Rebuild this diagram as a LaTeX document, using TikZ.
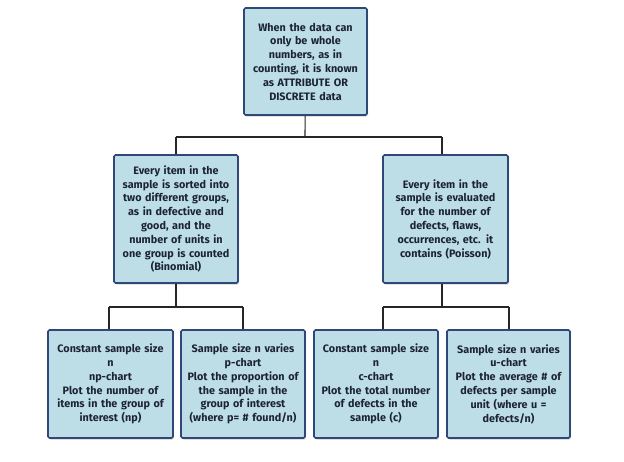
\documentclass[tikz,border=0pt]{standalone}
\usepackage{fontspec}
\setmainfont{Fira Sans}
\usetikzlibrary{shadows}
\definecolor{boxfill}{RGB}{190,222,231}
\definecolor{boxline}{RGB}{47,72,120}
\definecolor{boxtext}{RGB}{28,36,52}
\begin{document}
\begin{tikzpicture}[x=1pt, y=-1pt,
    box/.style={draw=boxline, line width=1.6pt, fill=boxfill, rounded corners=1.5pt,
        text=boxtext, font=\bfseries\fontsize{10.8}{13.8}\selectfont, align=center,
        inner sep=0pt, drop shadow={shadow xshift=1.2pt, shadow yshift=-1.5pt, opacity=0.35}},
    link/.style={draw=black!85, line width=1.1pt}]
    \useasboundingbox (0,0) rectangle (624,461);
    % Top box: attribute data
    \node[box, minimum width=123pt, minimum height=107pt, text width=120pt] (top) at (305.5,61.5)
        {When the data can\\only be whole\\numbers, as in\\counting, it is known\\as ATTRIBUTE OR\\DISCRETE data};
    % Middle row: binomial and poisson
    \node[box, minimum width=124pt, minimum height=128pt, text width=121pt] (binom) at (176,219)
        {Every item in the\\sample is sorted into\\two different groups,\\as in defective and\\good, and the\\number of units in\\one group is counted\\(Binomial)};
    \node[box, minimum width=125pt, minimum height=128pt, text width=121pt] (poisson) at (445.5,219)
        {Every item in the\\sample is evaluated\\for the number of\\defects, flaws,\\occurrences, etc. it\\contains (Poisson)};
    % Bottom row: the four charts
    \node[box, minimum width=125pt, minimum height=108pt, text width=122pt] (np) at (110.5,384)
        {Constant sample size\\n\\np-chart\\Plot the number of\\items in the group of\\interest (np)};
    \node[box, minimum width=124pt, minimum height=108pt, text width=122pt] (p) at (243,384)
        {Sample size n varies\\p-chart\\Plot the proportion of\\the sample in the\\group of interest\\(where p= \# found/n)};
    \node[box, minimum width=124pt, minimum height=108pt, text width=122pt] (c) at (376,384)
        {Constant sample size\\n\\c-chart\\Plot the total number\\of defects in the\\sample (c)};
    \node[box, minimum width=123pt, minimum height=108pt, text width=121pt] (u) at (508.5,384)
        {Sample size n varies\\u-chart\\Plot the average \# of\\defects per sample\\unit (where u =\\defects/n)};
    % Connectors
    \coordinate (topsplit) at (305,137);
    \coordinate (lsplit) at (176,137); \coordinate (rsplit) at (442,137);
    \draw[link] (top) -- (topsplit);
    \draw[link] (lsplit) -- (rsplit);
    \draw[link] (lsplit) -- (binom);
    \draw[link] (rsplit) -- (rsplit |- poisson.north);
    \coordinate (bjoin) at (176,307); \coordinate (pjoin) at (442,307);
    \coordinate (npjoin) at (109,307); \coordinate (pcjoin) at (243,307);
    \coordinate (cjoin) at (383,307); \coordinate (ujoin) at (509,307);
    \draw[link] (binom) -- (bjoin);
    \draw[link] (npjoin) -- (pcjoin);
    \draw[link] (npjoin) -- (npjoin |- np.north);
    \draw[link] (pcjoin) -- (p);
    \draw[link] (poisson.south -| pjoin) -- (pjoin);
    \draw[link] (cjoin) -- (ujoin);
    \draw[link] (cjoin) -- (cjoin |- c.north);
    \draw[link] (ujoin) -- (ujoin |- u.north);
\end{tikzpicture}
\end{document}
